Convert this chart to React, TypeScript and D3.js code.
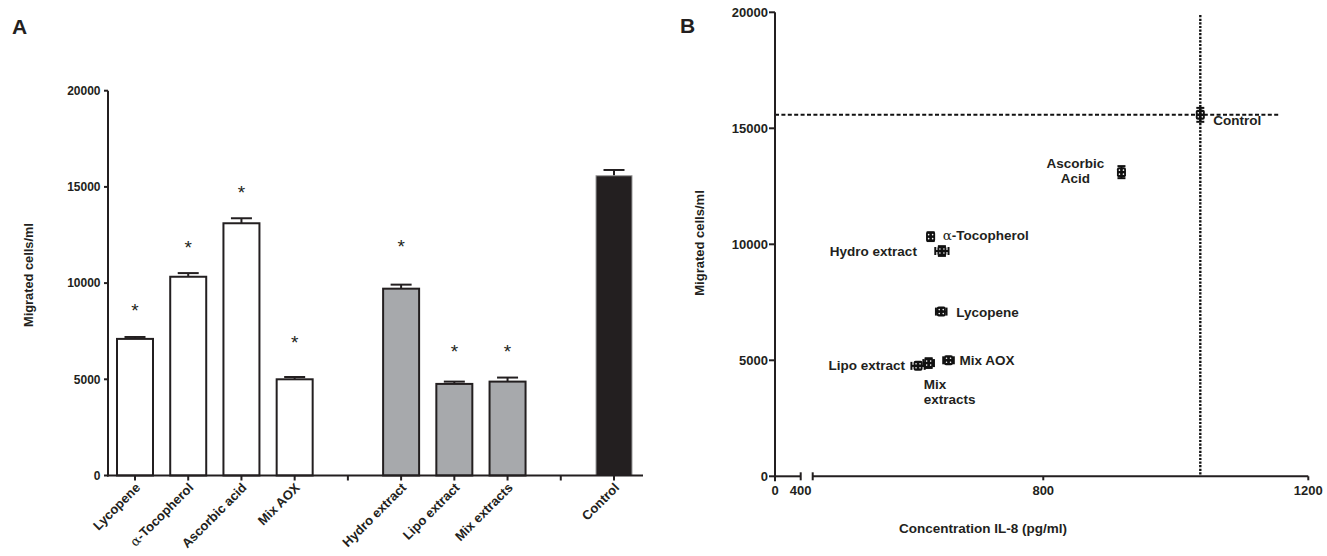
import React from "react";
import * as d3 from "d3";

// ---------- Panel A data ----------
const slotKeys = ["Lycopene", "α-Tocopherol", "Ascorbic acid", "Mix AOX", "gap1", "Hydro extract", "Lipo extract", "Mix extracts", "gap2", "Control"];
const barNames = ["Lycopene", "α-Tocopherol", "Ascorbic acid", "Mix AOX", "Hydro extract", "Lipo extract", "Mix extracts", "Control"];
const barMeans = [7100, 10330, 13110, 5000, 9710, 4760, 4880, 15580];
const barSem = [100, 190, 260, 120, 210, 120, 210, 300];
const barGroup = ["aox", "aox", "aox", "aox", "extract", "extract", "extract", "control"];
const starLevels = [8830, 12100, 14930, 7130, 12120, 6660, 6660, null];
const yTicksA = [0, 5000, 10000, 15000, 20000];

// ---------- Panel B data ----------
const il8Mean = [646, 630, 918, 657, 647, 611, 627, 1037];
const il8Sem = [8, 5, 4, 8, 10, 10, 8, 4];
const yTicksB = [0, 5000, 10000, 15000, 20000];
const xTicksB1 = [0, 400];
const xTicksB2 = [800, 1200];

const INK = "#231f20";
const FONT = "'Liberation Sans', Arial, Helvetica, sans-serif";
const fillFor: Record<string, string> = { aox: "#ffffff", extract: "#a7a9ac", control: "#231f20" };

// label offsets (px) for panel B
const labelB: Record<string, { dx: number; dy: number; anchor: string; lines: string[] }> = {
  "Lycopene": { dx: 15, dy: 5, anchor: "start", lines: ["Lycopene"] },
  "α-Tocopherol": { dx: 12, dy: 3, anchor: "start", lines: ["α-Tocopherol"] },
  "Ascorbic acid": { dx: -46, dy: -4, anchor: "middle", lines: ["Ascorbic", "Acid"] },
  "Mix AOX": { dx: 11, dy: 5, anchor: "start", lines: ["Mix AOX"] },
  "Hydro extract": { dx: -25, dy: 5, anchor: "end", lines: ["Hydro extract"] },
  "Lipo extract": { dx: -13, dy: 4, anchor: "end", lines: ["Lipo extract"] },
  "Mix extracts": { dx: -5, dy: 26, anchor: "start", lines: ["Mix", "extracts"] },
  "Control": { dx: 13, dy: 10, anchor: "start", lines: ["Control"] },
};

function renderLabel(s: string) {
  if (s.startsWith("α")) {
    return [
      <tspan key="a" fontFamily="'DejaVu Serif', 'Liberation Serif', serif" fontWeight="normal">α</tspan>,
      <tspan key="b">{s.slice(1)}</tspan>,
    ];
  }
  return s;
}

function PanelA() {
  const y = d3.scaleLinear().domain([0, 20000]).range([475.5, 90.7]);
  const x = d3.scalePoint<string>().domain(slotKeys).range([135, 614]);
  const bw = 36;
  const cap = 21;
  const axisX = 108;
  const axisY = y(0);
  return (
    <g>
      <text x={12} y={33.5} fontSize={21} fontWeight="bold" fill={INK}>A</text>
      {barNames.map((n, i) => {
        const cx = x(n)!;
        const top = y(barMeans[i]);
        const g = barGroup[i];
        const eTop = y(barMeans[i] + barSem[i]);
        return (
          <g key={n}>
            <line x1={cx} x2={cx} y1={top} y2={eTop} stroke={INK} strokeWidth={2} />
            <line x1={cx - cap / 2} x2={cx + cap / 2} y1={eTop} y2={eTop} stroke={INK} strokeWidth={2} />
            <rect x={cx - bw / 2} y={top} width={bw} height={axisY - top} fill={fillFor[g]}
              stroke={g === "control" ? "#9a9a9a" : INK} strokeWidth={g === "control" ? 1 : 2} />
            {starLevels[i] != null && (
              <text x={cx} y={y(starLevels[i] as number) + 11} textAnchor="middle" fontSize={19} fill={INK}>*</text>
            )}
          </g>
        );
      })}
      <line x1={axisX} x2={axisX} y1={axisY + 1} y2={y(20000)} stroke={INK} strokeWidth={2} />
      {yTicksA.map((t) => (
        <g key={t}>
          <line x1={axisX - 4} x2={axisX} y1={y(t)} y2={y(t)} stroke={INK} strokeWidth={2} />
          <text x={axisX - 7.5} y={y(t) + 4.3} textAnchor="end" fontSize={12} fontWeight="bold" fill={INK}>{t}</text>
        </g>
      ))}
      <line x1={axisX - 1} x2={643} y1={axisY} y2={axisY} stroke={INK} strokeWidth={2} />
      {slotKeys.map((k) => (
        <line key={k} x1={x(k)!} x2={x(k)!} y1={axisY} y2={axisY + 5} stroke={INK} strokeWidth={2} />
      ))}
      {barNames.map((n) => (
        <text key={n} transform={`translate(${x(n)! + 6},${axisY + 13}) rotate(-45)`} textAnchor="end"
          fontSize={13} fontWeight="bold" fill={INK}>{renderLabel(n)}</text>
      ))}
      <text transform={`translate(33,275) rotate(-90)`} textAnchor="middle" fontSize={12.8} fontWeight="bold" fill={INK}>Migrated cells/ml</text>
    </g>
  );
}

function Marker({ cx, cy, ex, ey }: { cx: number; cy: number; ex: number; ey: number }) {
  const c = 4;
  return (
    <g>
      <line x1={cx - ex} x2={cx + ex} y1={cy} y2={cy} stroke="#111" strokeWidth={2} />
      <line x1={cx} x2={cx} y1={cy - ey} y2={cy + ey} stroke="#111" strokeWidth={2} />
      <line x1={cx - ex} x2={cx - ex} y1={cy - c} y2={cy + c} stroke="#111" strokeWidth={2} />
      <line x1={cx + ex} x2={cx + ex} y1={cy - c} y2={cy + c} stroke="#111" strokeWidth={2} />
      <line x1={cx - c} x2={cx + c} y1={cy - ey} y2={cy - ey} stroke="#111" strokeWidth={2} />
      <line x1={cx - c} x2={cx + c} y1={cy + ey} y2={cy + ey} stroke="#111" strokeWidth={2} />
      <rect x={cx - 4.5} y={cy - 5} width={9} height={10} rx={2} fill="#111" />
      {[[-2, -2], [2, -2], [-2, 2], [2, 2]].map(([dx, dy], i) => (
        <circle key={i} cx={cx + dx} cy={cy + dy} r={0.8} fill="#fff" />
      ))}
    </g>
  );
}

function PanelB() {
  const y = d3.scaleLinear().domain([0, 20000]).range([476.3, 12.3]);
  const x1 = d3.scaleLinear().domain([0, 400]).range([775, 800.7]);
  const x2 = d3.scaleLinear().domain([452, 1200]).range([812.7, 1308.3]);
  const axisX = 775;
  const axisY = y(0);
  const ctrlX = x2(il8Mean[7]);
  const ctrlY = y(barMeans[7]);
  return (
    <g>
      <text x={680} y={33} fontSize={21} fontWeight="bold" fill={INK}>B</text>
      <line x1={axisX} x2={x2(1157)} y1={ctrlY} y2={ctrlY} stroke="#111" strokeWidth={2} strokeDasharray="4,2.4" />
      <line x1={ctrlX} x2={ctrlX} y1={y(19880)} y2={axisY} stroke="#111" strokeWidth={2.4} strokeDasharray="2.2,1.4" />
      <line x1={axisX} x2={axisX} y1={axisY + 5} y2={y(20000)} stroke={INK} strokeWidth={2} />
      {yTicksB.map((t) => (
        <g key={t}>
          <line x1={axisX - 6} x2={axisX} y1={y(t)} y2={y(t)} stroke={INK} strokeWidth={2} />
          <text x={axisX - 7} y={y(t) + 4.6} textAnchor="end" fontSize={13} fontWeight="bold" fill={INK}>{t}</text>
        </g>
      ))}
      <line x1={axisX} x2={x1(400)} y1={axisY} y2={axisY} stroke={INK} strokeWidth={2} />
      <line x1={x2(452)} x2={x2(1200)} y1={axisY} y2={axisY} stroke={INK} strokeWidth={2} />
      <line x1={x1(400)} x2={x1(400)} y1={axisY - 4} y2={axisY + 4} stroke={INK} strokeWidth={2} />
      <line x1={x2(452)} x2={x2(452)} y1={axisY - 4} y2={axisY + 4} stroke={INK} strokeWidth={2} />
      {xTicksB2.map((t) => (
        <line key={t} x1={x2(t)} x2={x2(t)} y1={axisY} y2={axisY + 4} stroke={INK} strokeWidth={2} />
      ))}
      {xTicksB1.map((t) => (
        <text key={t} x={x1(t)} y={495} textAnchor="middle" fontSize={13} fontWeight="bold" fill={INK}>{t}</text>
      ))}
      {xTicksB2.map((t) => (
        <text key={t} x={x2(t)} y={495} textAnchor="middle" fontSize={13} fontWeight="bold" fill={INK}>{t}</text>
      ))}
      {barNames.map((n, i) => {
        const cx = x2(il8Mean[i]);
        const cy = y(barMeans[i]);
        const ex = Math.max(x2(il8Mean[i] + il8Sem[i]) - cx, 1);
        const ey = Math.max(cy - y(barMeans[i] + barSem[i]), 1);
        return <Marker key={n} cx={cx} cy={cy} ex={ex} ey={ey} />;
      })}
      {barNames.map((n, i) => {
        const L = labelB[n];
        const cx = x2(il8Mean[i]);
        const cy = y(barMeans[i]);
        return (
          <text key={n} x={cx + L.dx} y={cy + L.dy} textAnchor={L.anchor as any} fontSize={13.5} fontWeight="bold" fill={INK}>
            {L.lines.map((ln, j) => (
              <tspan key={j} x={cx + L.dx} dy={j === 0 ? 0 : 15}>{renderLabel(ln)}</tspan>
            ))}
          </text>
        );
      })}
      <text transform={`translate(704,243) rotate(-90)`} textAnchor="middle" fontSize={13} fontWeight="bold" fill={INK}>Migrated cells/ml</text>
      <text x={983} y={533} textAnchor="middle" fontSize={13.5} fontWeight="bold" fill={INK}>Concentration IL-8 (pg/ml)</text>
    </g>
  );
}

export default function App() {
  return (
    <svg width={1327} height={556} viewBox="0 0 1327 556"
      style={{ position: "absolute", left: 0, top: 0, background: "#fff", fontFamily: FONT }}>
      <rect width={1327} height={556} fill="#fff" />
      <PanelA />
      <PanelB />
    </svg>
  );
}
